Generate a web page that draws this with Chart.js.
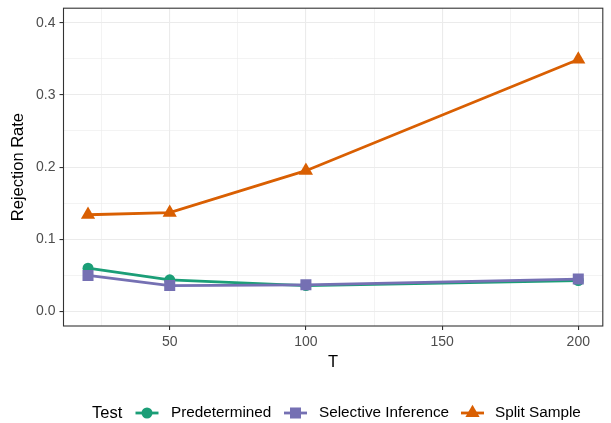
<!DOCTYPE html>
<html>
<head>
<meta charset="utf-8">
<script src="https://cdn.jsdelivr.net/npm/chart.js@4.4.1/dist/chart.umd.min.js"></script>
<style>
  html, body { margin: 0; padding: 0; background: #fff; }
  #wrap { width: 611px; height: 423px; position: relative; }
</style>
</head>
<body>
<div id="wrap"><canvas id="chart" width="611" height="423"></canvas></div>
<script>
// data
const T = [20, 50, 100, 200];
const predetermined = [0.060, 0.044, 0.036, 0.043];
const selective = [0.050, 0.036, 0.037, 0.045];
const splitSample = [0.134, 0.137, 0.195, 0.349];

const seriesNames = ['Predetermined', 'Selective Inference', 'Split Sample'];
const legendTitle = 'Test';

const xMajor = [50, 100, 150, 200];
const xMinor = [25, 75, 125, 175];
const yMajor = [0, 0.1, 0.2, 0.3, 0.4];
const yMinor = [0.05, 0.15, 0.25, 0.35];

const colors = ['#1B9E77', '#7570B3', '#D95F02'];
const styles = ['circle', 'rect', 'triangle'];
const radii = [5.5, 7.8, 8.2];

const FONT = '"Liberation Sans", Arial, Helvetica, sans-serif';

function pts(ys) {
    return T.map((t, i) => ({ x: t, y: ys[i] }));
}

function makeSet(i, ys) {
    return {
        label: seriesNames[i],
        data: pts(ys),
        borderColor: colors[i],
        backgroundColor: colors[i],
        borderWidth: 2.8,
        pointStyle: styles[i],
        pointRadius: radii[i],
        pointBorderWidth: 0,
        pointHoverRadius: radii[i],
        tension: 0,
        order: 3 - i
    };
}

function isMajor(list, v) {
    return list.some(m => Math.abs(m - v) < 1e-9);
}

// panel border + custom bottom legend (title inline with the keys)
const panelAndLegend = {
    id: 'panelAndLegend',
    afterDraw(chart) {
        const { ctx, chartArea: a } = chart;
        ctx.save();
        ctx.strokeStyle = '#333333';
        ctx.lineWidth = 1.1;
        ctx.strokeRect(a.left, a.top, a.right - a.left, a.bottom - a.top);

        const cy = 413;
        ctx.fillStyle = '#000000';
        ctx.textBaseline = 'middle';
        ctx.textAlign = 'left';
        ctx.font = '16.5px ' + FONT;
        ctx.fillText(legendTitle, 92, cy);

        const keyX = [147, 295.5, 472.5];
        const textX = [171, 319, 495];
        ctx.font = '15.3px ' + FONT;
        chart.data.datasets.forEach((ds, i) => {
            ctx.strokeStyle = ds.borderColor;
            ctx.lineWidth = 2.8;
            ctx.beginPath();
            ctx.moveTo(keyX[i] - 11.5, cy);
            ctx.lineTo(keyX[i] + 11.5, cy);
            ctx.stroke();
            ctx.fillStyle = ds.backgroundColor;
            Chart.helpers.drawPoint(ctx, {
                pointStyle: ds.pointStyle,
                radius: ds.pointRadius,
                rotation: 0,
                borderWidth: 0
            }, keyX[i], cy);
            ctx.fillStyle = '#000000';
            ctx.fillText(ds.label, textX[i], cy);
        });
        ctx.restore();
    }
};

const ctx = document.getElementById('chart').getContext('2d');
const chart = new Chart(ctx, {
    type: 'line',
    data: {
        datasets: [
            makeSet(0, predetermined),
            makeSet(1, selective),
            makeSet(2, splitSample)
        ]
    },
    options: {
        responsive: false,
        animation: false,
        events: [],
        layout: { padding: { left: 0, top: 5.5, right: 1, bottom: 51 } },
        plugins: {
            legend: { display: false },
            tooltip: { enabled: false }
        },
        scales: {
            x: {
                type: 'linear',
                min: 11,
                max: 209,
                afterBuildTicks: s => {
                    s.ticks = xMinor.concat(xMajor).sort((a, b) => a - b).map(v => ({ value: v }));
                },
                afterFit: s => {
                    s.height = 46;
                    s.paddingLeft = 0;
                    s.paddingRight = 0;
                },
                ticks: {
                    autoSkip: false,
                    maxRotation: 0,
                    padding: 4,
                    color: '#4D4D4D',
                    font: { family: FONT, size: 14 },
                    callback: v => isMajor(xMajor, v) ? String(v) : ''
                },
                grid: {
                    color: '#EBEBEB',
                    lineWidth: c => isMajor(xMajor, c.tick.value) ? 1.1 : 0.6,
                    tickColor: c => isMajor(xMajor, c.tick.value) ? '#333333' : 'rgba(0,0,0,0)',
                    tickLength: 4,
                    tickWidth: 1.1
                },
                border: { display: false },
                title: {
                    display: true,
                    text: 'T',
                    color: '#000000',
                    font: { family: FONT, size: 16.5 },
                    padding: { top: 0, bottom: 0 }
                }
            },
            y: {
                min: -0.02,
                max: 0.42,
                afterBuildTicks: s => {
                    s.ticks = yMinor.concat(yMajor).sort((a, b) => a - b).map(v => ({ value: v }));
                },
                afterFit: s => {
                    s.width = 63.5;
                    s.paddingTop = 0;
                    s.paddingBottom = 0;
                },
                ticks: {
                    autoSkip: false,
                    padding: 4,
                    color: '#4D4D4D',
                    font: { family: FONT, size: 14 },
                    callback: v => isMajor(yMajor, v) ? v.toFixed(1) : ''
                },
                grid: {
                    color: '#EBEBEB',
                    lineWidth: c => isMajor(yMajor, c.tick.value) ? 1.1 : 0.6,
                    tickColor: c => isMajor(yMajor, c.tick.value) ? '#333333' : 'rgba(0,0,0,0)',
                    tickLength: 4,
                    tickWidth: 1.1
                },
                border: { display: false },
                title: {
                    display: true,
                    text: 'Rejection Rate',
                    color: '#000000',
                    font: { family: FONT, size: 16.5 },
                    padding: { top: 9, bottom: 0 }
                }
            }
        }
    },
    plugins: [panelAndLegend]
});
</script>
</body>
</html>
